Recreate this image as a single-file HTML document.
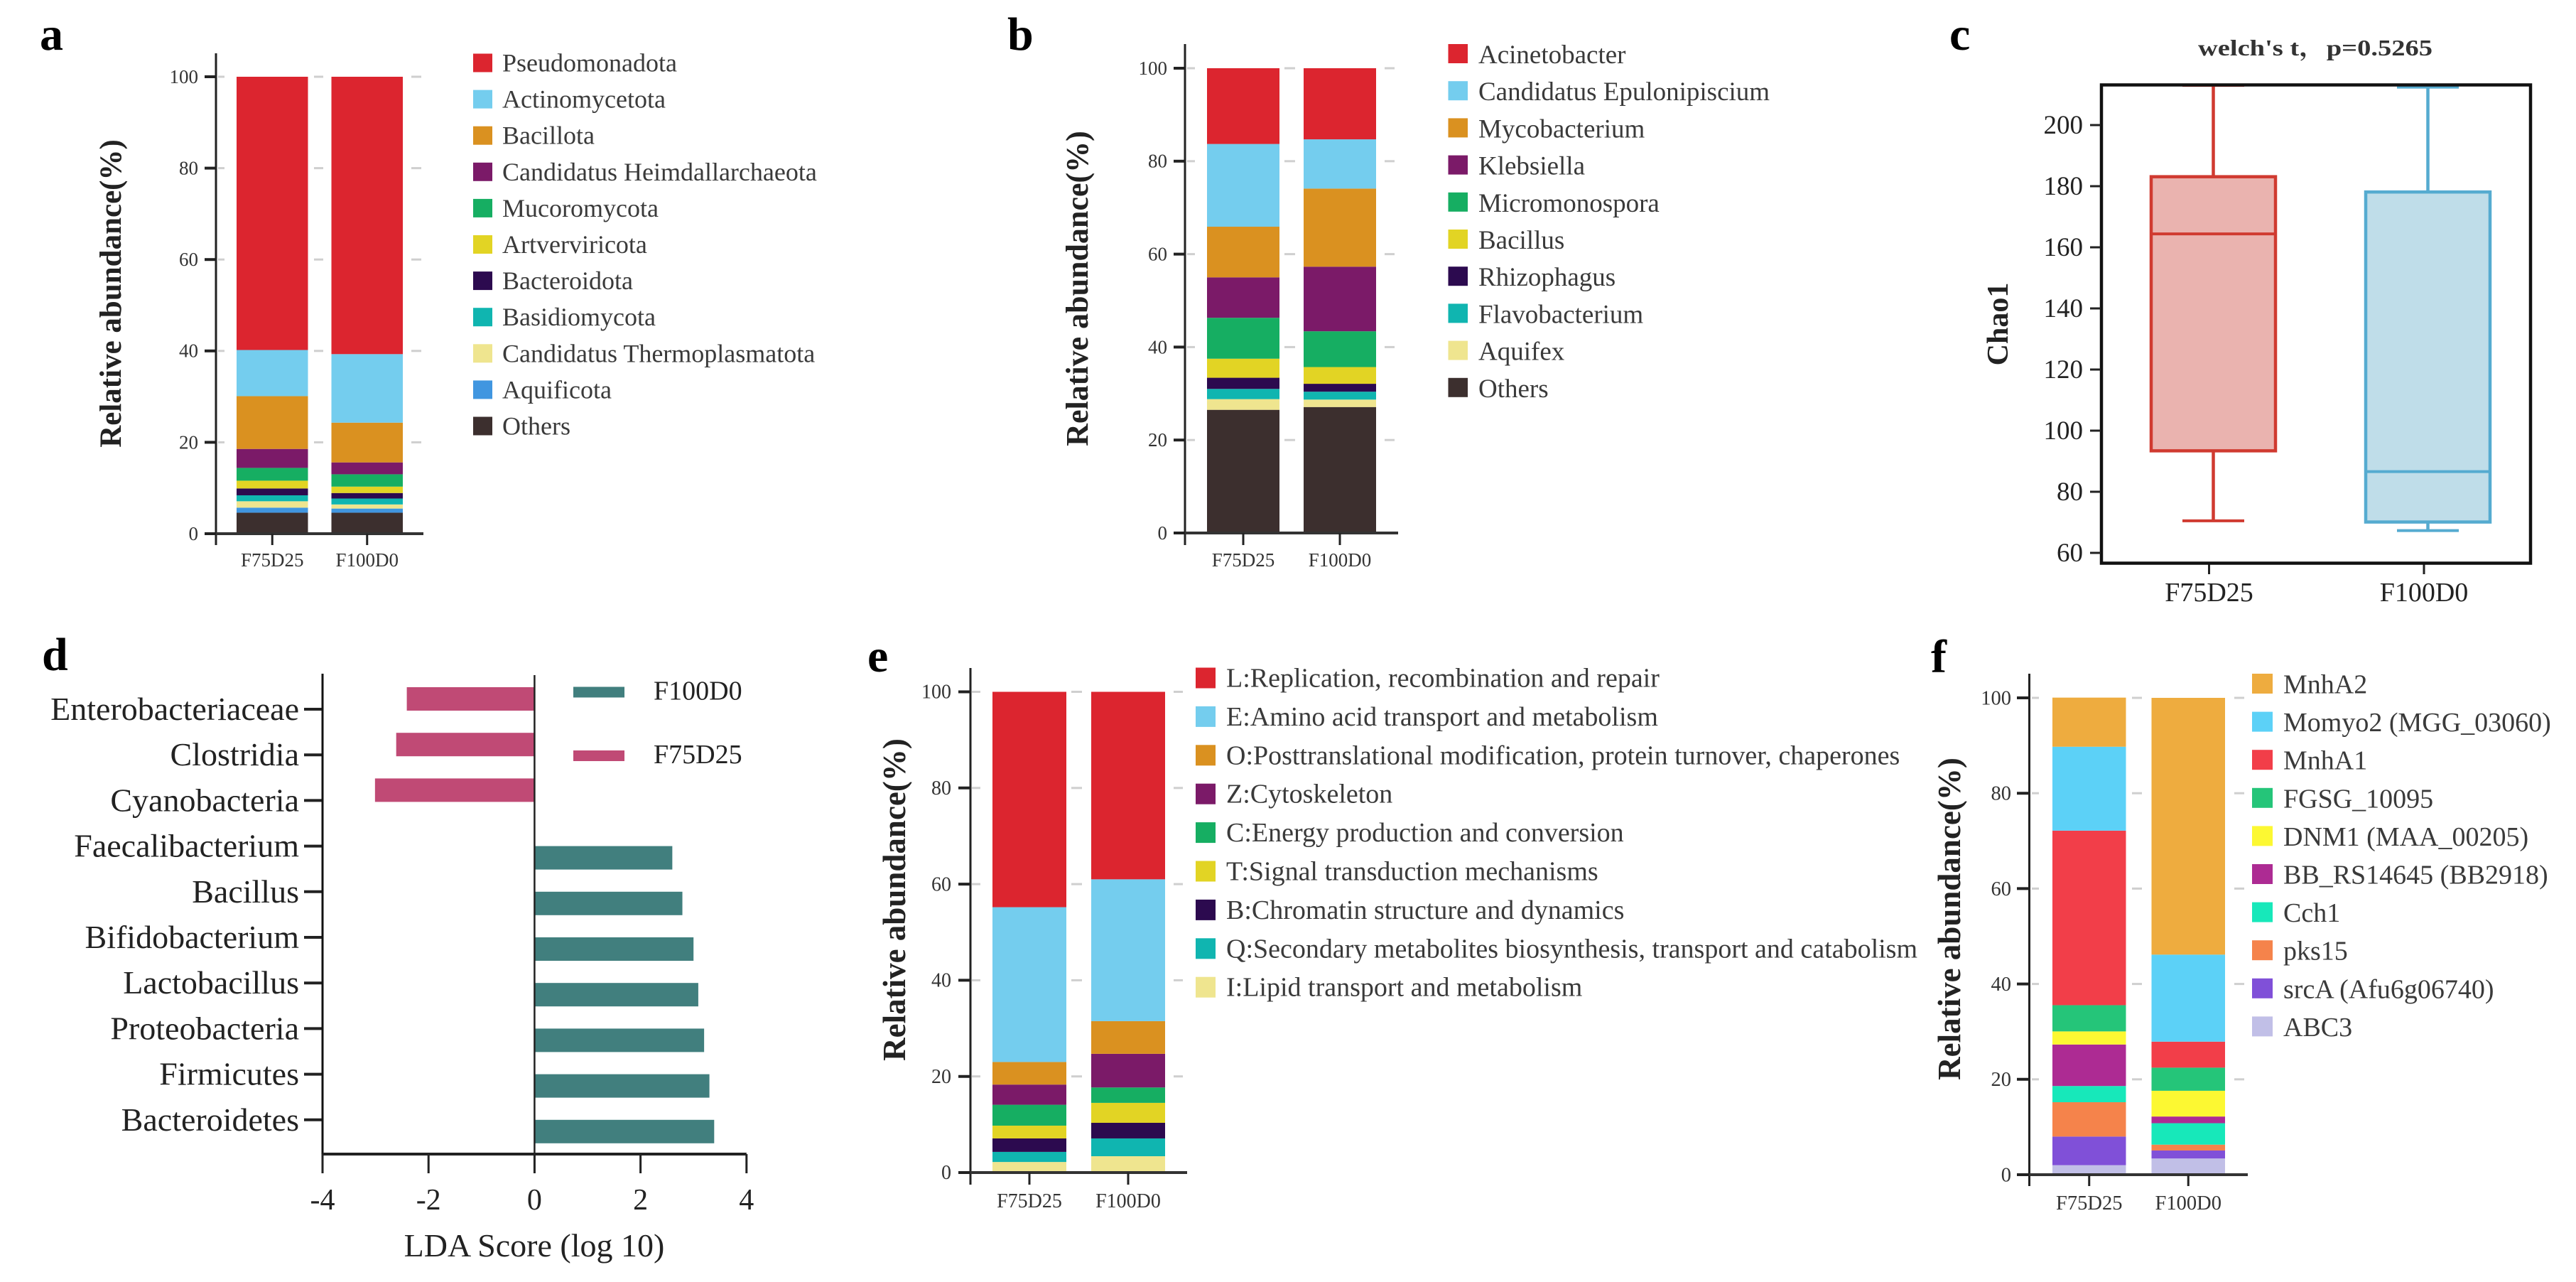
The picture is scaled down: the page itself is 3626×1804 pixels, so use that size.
<!DOCTYPE html>
<html lang="en">
<head>
<meta charset="utf-8">
<title>Multi-panel microbiome figure</title>
<style>
html,body{margin:0;padding:0;background:#fff;}
svg{display:block;}
text{font-family:"Liberation Serif","Noto Serif CJK SC",serif;}
.panel-letter{font-size:66px;font-weight:bold;fill:#000;}
.y-title{font-weight:bold;fill:#222;}
</style>
</head>
<body>
<svg id="figure" xmlns="http://www.w3.org/2000/svg" width="3626" height="1804" viewBox="0 0 3626 1804">
  <rect x="0" y="0" width="3626" height="1804" fill="#fff"/>
  <text class="panel-letter" x="56" y="70">a</text>
  <text class="panel-letter" x="1418" y="70">b</text>
  <text class="panel-letter" x="2744" y="70">c</text>
  <text class="panel-letter" x="59" y="943">d</text>
  <text class="panel-letter" x="1221" y="945">e</text>
  <text class="panel-letter" x="2718" y="946">f</text>

  <text class="y-title" font-size="43" text-anchor="middle" transform="translate(170 413) rotate(-90)">Relative abundance(%)</text>
  <text class="y-title" font-size="44" text-anchor="middle" transform="translate(1531 406) rotate(-90)">Relative abundance(%)</text>
  <text class="y-title" font-size="42" text-anchor="middle" transform="translate(2826 456) rotate(-90)">Chao1</text>
  <text class="y-title" font-size="45" text-anchor="middle" transform="translate(1274 1266) rotate(-90)">Relative abundance(%)</text>
  <text class="y-title" font-size="45" text-anchor="middle" transform="translate(2759 1293) rotate(-90)">Relative abundance(%)</text>

  <text x="3094" y="78" font-size="32" font-weight="bold" fill="#333" textLength="330" lengthAdjust="spacingAndGlyphs">welch's t，p=0.5265</text>
  <text x="752" y="1768" font-size="46" fill="#222" text-anchor="middle">LDA Score (log 10)</text>
</svg>

<script>
// ---------- shared chart data ----------
const groupLabels = ['F75D25', 'F100D0'];
const abundanceTicks = [0, 20, 40, 60, 80, 100];

// panel a
const phylumNames = ['Pseudomonadota','Actinomycetota','Bacillota','Candidatus Heimdallarchaeota','Mucoromycota','Artverviricota','Bacteroidota','Basidiomycota','Candidatus Thermoplasmatota','Aquificota','Others'];
const phylumF75D25 = [59.8,10.1,11.55,4.15,2.8,1.7,1.5,1.3,1.4,1.1,4.6];
const phylumF100D0 = [60.7,15,8.7,2.6,2.7,1.4,1.2,1.3,0.9,0.9,4.6];

// panel b
const genusNames = ['Acinetobacter','Candidatus Epulonipiscium','Mycobacterium','Klebsiella','Micromonospora','Bacillus','Rhizophagus','Flavobacterium','Aquifex','Others'];
const genusF75D25 = [16.3,17.8,10.9,8.7,8.8,4.1,2.4,2.2,2.3,26.5];
const genusF100D0 = [15.3,10.6,16.8,13.9,7.7,3.6,1.7,1.7,1.6,27.1];

// panel c
const chaoTicks = [60,80,100,120,140,160,180,200];
const chaoLow = [70.5,67.3];
const chaoQ1 = [93.4,70.1];
const chaoMedian = [164.4,86.6];
const chaoQ3 = [183.1,178.1];
const chaoHigh = [213,212.4];

// panel d
const ldaTaxa = ['Enterobacteriaceae','Clostridia','Cyanobacteria','Faecalibacterium','Bacillus','Bifidobacterium','Lactobacillus','Proteobacteria','Firmicutes','Bacteroidetes'];
const ldaScores = [-2.41,-2.61,-3.01,2.6,2.79,3.0,3.09,3.2,3.3,3.39];
const ldaTicks = [-4,-2,0,2,4];
const ldaLegend = ['F100D0','F75D25'];

// panel e
const cogNames = ['L:Replication, recombination and repair','E:Amino acid transport and metabolism','O:Posttranslational modification, protein turnover, chaperones','Z:Cytoskeleton','C:Energy production and conversion','T:Signal transduction mechanisms','B:Chromatin structure and dynamics','Q:Secondary metabolites biosynthesis, transport and catabolism','I:Lipid transport and metabolism'];
const cogF75D25 = [44.8,32.2,4.7,4.2,4.34,2.66,2.8,2.1,2.2];
const cogF100D0 = [39,29.5,6.8,7,3.2,4.15,3.25,3.7,3.4];

// panel f
const geneNames = ['MnhA2','Momyo2 (MGG_03060)','MnhA1','FGSG_10095','DNM1 (MAA_00205)','BB_RS14645 (BB2918)','Cch1','pks15','srcA (Afu6g06740)','ABC3'];
const geneF75D25 = [10.3,17.6,36.6,5.5,2.75,8.7,3.4,7.2,6,2];
const geneF100D0 = [53.85,18.25,5.45,4.85,5.4,1.4,4.5,1.23,1.67,3.4];

// ---------- styling ----------
const mainColors = ['#DC252F','#74CDEE','#DA9120','#7B1A68','#16AE62','#E2D424','#2C0A4F','#10B5B0','#EFE58F','#4096E0','#3C2F2E'];
const genusColors = ['#DC252F','#74CDEE','#DA9120','#7B1A68','#16AE62','#E2D424','#2C0A4F','#10B5B0','#EFE58F','#3C2F2E'];
const geneColors = ['#EEAC3F','#5CD1F7','#F23E49','#25C579','#FCF832','#AD2B93','#17E8BA','#F5834B','#8050D8','#C1BFE7'];
const boxStroke = ['#D03A30','#55ABD0'];
const boxFill = ['#EAB3AF','#BFDDE9'];

// ---------- helpers ----------
const svg = document.getElementById('figure');
const NS = 'http://www.w3.org/2000/svg';
function make(tag, props, parent) {
  const node = document.createElementNS(NS, tag);
  for (const k in props) node.setAttribute(k, props[k]);
  (parent || svg).appendChild(node);
  return node;
}
function line(x1, y1, x2, y2, stroke, width) {
  return make('line', {x1, y1, x2, y2, stroke, 'stroke-width': width});
}
function label(str, x, y, size, anchor, fill) {
  const t = make('text', {x, y, 'font-size': size, 'text-anchor': anchor, fill});
  t.textContent = str;
  return t;
}

// ---------- stacked bar panels ----------
function drawStacked(p) {
  const y = v => p.y0 - v * (p.y0 - p.y100) / 100;
  const axisColor = '#222';

  abundanceTicks.forEach(v => {
    p.dashes.forEach(d => {
      const dash = line(d[0], y(v), d[1], y(v), '#cfcfcf', 3);
      
      
    });
  });

  p.series.forEach((vals, g) => {
    let cum = 0;
    for (let i = vals.length - 1; i >= 0; i--) {
      const top = y(cum + vals[i]);
      const bottom = y(cum);
      const seg = make('rect', {x: p.barX[g], y: top, width: p.barW, height: bottom - top, fill: p.colors[i]});
      
      
      cum += vals[i];
    }
  });

  const yAxis = line(p.axisX, p.axisTop, p.axisX, p.axisBottom, axisColor, 3);
  
  

  const xAxis = line(p.xL, p.y0, p.xR, p.y0, '#333', 4);
  
  

  abundanceTicks.forEach(v => {
    const tick = line(p.xL, y(v), p.axisX, y(v), axisColor, 4);
    
    
    const tl = label(String(v), p.tickRight, y(v) + p.tickFs * 0.33, p.tickFs, 'end', '#333');
    
    
  });

  groupLabels.forEach((name, g) => {
    const cx = p.barX[g] + p.barW / 2;
    const tick = line(cx, p.y0, cx, p.axisBottom, axisColor, 3);
    
    
    const tl = label(name, cx, p.xBase, p.xFs, 'middle', '#333');
    
    
  });

  p.names.forEach((name, i) => {
    const ly = p.legY + i * p.legStep;
    const sw = make('rect', {x: p.legX, y: ly, width: p.legW, height: p.legH, fill: p.colors[i]});
    
    
    const lt = label(name, p.legTextX, ly + p.legBase, p.legFs, 'start', '#3a3a3a');
    
    
  });
}

drawStacked({names: phylumNames, series: [phylumF75D25, phylumF100D0], colors: mainColors,
  y0: 751, y100: 108, axisX: 304, axisTop: 75, axisBottom: 767, xL: 288, xR: 596,
  barX: [333, 466.5], barW: 100.5, dashes: [[307,316],[442,455],[579,593]],
  tickRight: 279, tickFs: 27, xBase: 797, xFs: 27,
  legX: 666, legY: 75.5, legW: 27, legH: 26, legStep: 51.1, legTextX: 707, legFs: 36, legBase: 25});

drawStacked({names: genusNames, series: [genusF75D25, genusF100D0], colors: genusColors,
  y0: 750, y100: 96, axisX: 1668, axisTop: 62, axisBottom: 767, xL: 1652, xR: 1968,
  barX: [1699, 1835], barW: 102, dashes: [[1671,1682],[1808,1823],[1949,1963]],
  tickRight: 1643, tickFs: 27, xBase: 797, xFs: 27,
  legX: 2038.5, legY: 62, legW: 27.5, legH: 27, legStep: 52.2, legTextX: 2081, legFs: 37, legBase: 27});

drawStacked({names: cogNames, series: [cogF75D25, cogF100D0], colors: mainColors,
  y0: 1650, y100: 973.5, axisX: 1366, axisTop: 940, axisBottom: 1667, xL: 1349, xR: 1671,
  barX: [1397, 1536], barW: 104, dashes: [[1368,1380],[1508,1523],[1652,1665]],
  tickRight: 1339, tickFs: 28, xBase: 1699, xFs: 28,
  legX: 1683, legY: 939.5, legW: 28, legH: 29, legStep: 54.4, legTextX: 1726, legFs: 38, legBase: 27});

drawStacked({names: geneNames, series: [geneF75D25, geneF100D0], colors: geneColors,
  y0: 1653, y100: 982, axisX: 2856.5, axisTop: 948, axisBottom: 1669, xL: 2839, xR: 3164,
  barX: [2889, 3028.5], barW: 103.5, dashes: [[2860,2870],[3001,3015],[3145,3159]],
  tickRight: 2831, tickFs: 28.5, xBase: 1702, xFs: 28.5,
  legX: 3170, legY: 948, legW: 29, legH: 28, legStep: 53.6, legTextX: 3214, legFs: 38, legBase: 27.5});

// ---------- panel c: box plot ----------
const chaoY = v => 176 + (200 - v) * 4.3;
const chaoCenters = [3115.5, 3417.5];
const chaoTickX = [3109.5, 3412];
const chaoHalf = 87.5;
const capHalf = 43.5;

groupLabels.forEach((name, g) => {
  const cx = chaoCenters[g];
  const boxRect = make('rect', {x: cx - chaoHalf, y: chaoY(chaoQ3[g]), width: chaoHalf * 2, height: chaoY(chaoQ1[g]) - chaoY(chaoQ3[g]), fill: boxFill[g], stroke: boxStroke[g], 'stroke-width': 4.5});
  
  

  const med = line(cx - chaoHalf, chaoY(chaoMedian[g]), cx + chaoHalf, chaoY(chaoMedian[g]), boxStroke[g], 4);
  
  

  const upper = line(cx, chaoY(chaoQ3[g]), cx, chaoY(chaoHigh[g]), boxStroke[g], 4.5);
  
  

  const lower = line(cx, chaoY(chaoQ1[g]), cx, chaoY(chaoLow[g]), boxStroke[g], 4.5);
  
  

  const capLow = line(cx - capHalf, chaoY(chaoLow[g]), cx + capHalf, chaoY(chaoLow[g]), boxStroke[g], 4);
  
  

  const capHigh = line(cx - capHalf, chaoY(chaoHigh[g]), cx + capHalf, chaoY(chaoHigh[g]), boxStroke[g], 4);
  
  

  const tick = line(chaoTickX[g], 792, chaoTickX[g], 808, '#222', 3);
  
  

  const tl = label(name, chaoTickX[g], 846, 38, 'middle', '#222');
  
  
});

const chaoFrame = make('rect', {x: 2958, y: 119.5, width: 604, height: 673, fill: 'none', stroke: '#111', 'stroke-width': 4.5});



chaoTicks.forEach(v => {
  const tick = line(2942, chaoY(v), 2957, chaoY(v), '#222', 3);
  
  
  const tl = label(String(v), 2932, chaoY(v) + 12, 37, 'end', '#222');
  
  
});

// ---------- panel d: LDA bars ----------
const ldaX = v => 752.4 + v * 74.6;
const ldaY = i => 998 + i * 64.2;
const ldaBarH = 33;
const ldaPositive = '#417F7E';
const ldaNegative = '#C04A75';

ldaTaxa.forEach((name, i) => {
  const s = ldaScores[i];
  const top = s < 0 ? ldaY(i) - 31 : ldaY(i);
  const bar = make('rect', {x: Math.min(ldaX(0), ldaX(s)), y: top, width: Math.abs(ldaX(s) - ldaX(0)), height: ldaBarH, fill: s < 0 ? ldaNegative : ldaPositive});
  
  

  const tick = line(428, ldaY(i), 453, ldaY(i), '#222', 4);
  
  

  const tl = label(name, 421, ldaY(i) + 15, 46, 'end', '#222');
  
  
});

const ldaLeft = line(ldaX(-4), 948, ldaX(-4), 1651, '#111', 3);



const ldaZero = line(ldaX(0), 950, ldaX(0), 1651, '#222', 2.5);



const ldaBottom = line(ldaX(-4), 1624, ldaX(4), 1624, '#222', 4);



ldaTicks.forEach(v => {
  const tick = line(ldaX(v), 1624, ldaX(v), 1651, '#222', 3);
  
  
  const tl = label(String(v), ldaX(v), 1702, 42, 'middle', '#222');
  
  
});

const ldaLegendY = [966.5, 1056];
const ldaLegendColors = [ldaPositive, ldaNegative];
ldaLegend.forEach((name, i) => {
  const sw = make('rect', {x: 807, y: ldaLegendY[i], width: 72, height: 15, fill: ldaLegendColors[i]});
  
  
  const lt = label(name, 920, ldaLegendY[i] + 18, 38, 'start', '#222');
  
  
});
</script>
</body>
</html>
